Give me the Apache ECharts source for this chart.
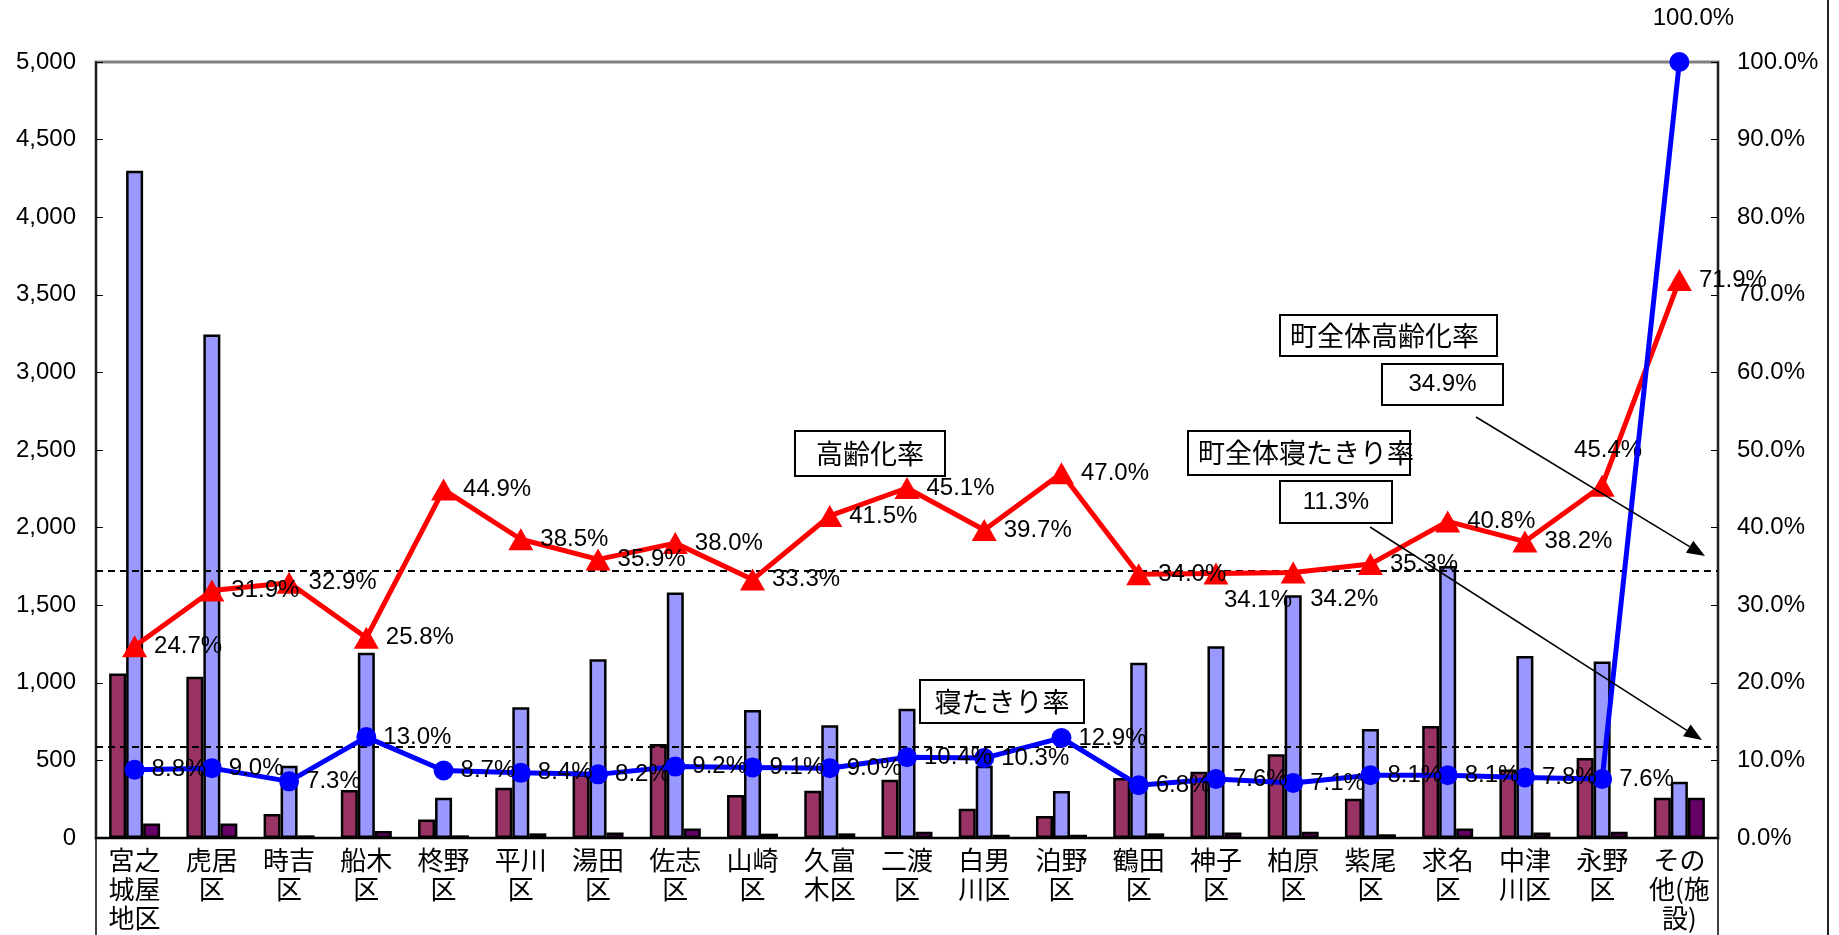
<!DOCTYPE html>
<html>
<head>
<meta charset="utf-8">
<script src="https://cdn.jsdelivr.net/npm/echarts@6/dist/echarts.min.js"></script>
<style>
html,body{margin:0;padding:0;background:#fff;}
#c{width:1839px;height:935px;}
</style>
</head>
<body>
<div id="c"></div>
<script>
// ---- data ----
const categories = ['宮之城屋地区','虎居区','時吉区','船木区','柊野区','平川区','湯田区','佐志区','山崎区','久富木区','二渡区','白男川区','泊野区','鶴田区','神子区','柏原区','紫尾区','求名区','中津川区','永野区','その他(施設)'];
const categoryLabels = ['宮之\n城屋\n地区','虎居\n区','時吉\n区','船木\n区','柊野\n区','平川\n区','湯田\n区','佐志\n区','山崎\n区','久富\n木区','二渡\n区','白男\n川区','泊野\n区','鶴田\n区','神子\n区','柏原\n区','紫尾\n区','求名\n区','中津\n川区','永野\n区','その\n他(施\n設)'];
const elderlyCount = [1060,1039,155,309,120,324,410,605,277,305,376,189,142,386,427,539,253,721,442,515,260];
const population   = [4300,3245,466,1193,260,843,1152,1582,824,727,833,466,303,1129,1236,1564,702,1753,1172,1137,363];
const bedriddenCount = [94,94,17,45,17,30,36,62,28,30,41,21,21,30,36,41,24,62,36,41,260];
const agingRate    = [24.7,31.9,32.9,25.8,44.9,38.5,35.9,38.0,33.3,41.5,45.1,39.7,47.0,34.0,34.1,34.2,35.3,40.8,38.2,45.4,71.9];
const bedriddenRate= [8.8,9.0,7.3,13.0,8.7,8.4,8.2,9.2,9.1,9.0,10.4,10.3,12.9,6.8,7.6,7.1,8.1,8.1,7.8,7.6,100.0];
const townAgingLine = 34.5;      // dashed reference line (town-wide aging rate)
const townBedriddenLine = 11.7;  // dashed reference line (town-wide bedridden rate)
const leftTicks = {min:0,max:5000,interval:500};
const rightTicks = {min:0,max:100,interval:10};

const NUM_FONT = "'Liberation Sans', Arial, sans-serif";
const CJK_FONT = "'Noto Sans CJK JP', 'Noto Sans CJK SC', sans-serif";

const chart = echarts.init(document.getElementById('c'), null, {renderer:'canvas'});

const pctLabel = {show:true, position:'right', distance:7, color:'#000', fontSize:24, fontFamily:NUM_FONT,
  formatter: p => p.value.toFixed(1) + '%'};

const agingData = agingRate.map((v,i) => {
  const d = {value:v};
  if (i === 14) d.label = {position:'bottom', distance:4, offset:[42,0]};
  if (i === 15) d.label = {position:'bottom', distance:4, offset:[51,0]};
  if (i === 19) d.label = {position:'top', distance:12, offset:[6,0]};
  return d;
});
const bedData = bedriddenRate.map((v,i) => {
  const d = {value:v};
  if (i === 20) d.label = {position:'top', distance:22, offset:[14,0]};
  return d;
});

const barBase = {type:'bar', barWidth:17, barGap:'0%', yAxisIndex:0};

function arrow(x1,y1,x2,y2){
  const dx=x2-x1, dy=y2-y1, L=Math.hypot(dx,dy), ux=dx/L, uy=dy/L;
  const bl=18, hw=7;
  const bx=x2-ux*bl, by=y2-uy*bl;
  return [
    {type:'line', shape:{x1:x1,y1:y1,x2:bx,y2:by}, style:{stroke:'#000', lineWidth:1.5}, z:100},
    {type:'polygon', shape:{points:[[x2,y2],[bx-uy*hw,by+ux*hw],[bx+uy*hw,by-ux*hw]]}, style:{fill:'#000'}, z:100}
  ];
}
function box(x,y,w,h,text,align,fs,font){
  const tx = align==='left' ? x+10 : x+w/2;
  return [
    {type:'rect', shape:{x:x,y:y,width:w,height:h}, style:{fill:'#fff', stroke:'#000', lineWidth:2}, z:100},
    {type:'text', x:tx, y:y+h/2, style:{text:text, fontSize:fs, fontFamily:font, fill:'#000',
      align:align, verticalAlign:'middle', textAlign:align, textVerticalAlign:'middle'}, z:101}
  ];
}

const graphics = [].concat(
  box(795,431,150,45,'高齢化率','center',27,CJK_FONT),
  box(920,680,164,43,'寝たきり率','center',27,CJK_FONT),
  box(1280,315,217,41,'町全体高齢化率','left',27,CJK_FONT),
  box(1382,364,121,41,'34.9%','center',24,NUM_FONT),
  box(1188,431,222,44,'町全体寝たきり率','left',27,CJK_FONT),
  box(1280,481,112,42,'11.3%','center',24,NUM_FONT),
  arrow(1476,417,1705,556),
  arrow(1370,527,1702,740),
  [
    {type:'line', shape:{x1:96,y1:838,x2:96,y2:935}, style:{stroke:'#000', lineWidth:1.5}},
    {type:'line', shape:{x1:1718,y1:838,x2:1718,y2:935}, style:{stroke:'#000', lineWidth:1.5}},
    {type:'line', shape:{x1:1828,y1:0,x2:1828,y2:935}, style:{stroke:'#222', lineWidth:2}}
  ]
);

chart.setOption({
  animation:false,
  backgroundColor:'#fff',
  grid:{left:96, right:121, top:62, bottom:97, show:true, borderColor:'#808080', borderWidth:3, backgroundColor:'transparent'},
  xAxis:{type:'category', data:categories, boundaryGap:true,
    axisLine:{lineStyle:{color:'#000', width:2}}, axisTick:{show:false},
    axisLabel:{interval:0, color:'#000', fontSize:26, lineHeight:29, margin:8, fontFamily:CJK_FONT,
      formatter:(v,i)=>categoryLabels[i]}},
  yAxis:[
    {type:'value', min:leftTicks.min, max:leftTicks.max, interval:leftTicks.interval,
      axisLine:{show:true, lineStyle:{color:'#000', width:1.5}},
      axisTick:{show:true, inside:true, length:7, lineStyle:{color:'#000'}},
      splitLine:{show:false},
      axisLabel:{color:'#000', fontSize:24, fontFamily:NUM_FONT, margin:20,
        formatter:v=>v.toLocaleString('en-US')}},
    {type:'value', min:rightTicks.min, max:rightTicks.max, interval:rightTicks.interval, position:'right',
      axisLine:{show:true, lineStyle:{color:'#000', width:1.5}},
      axisTick:{show:true, inside:true, length:7, lineStyle:{color:'#000'}},
      splitLine:{show:false},
      axisLabel:{color:'#000', fontSize:24, fontFamily:NUM_FONT, margin:19,
        formatter:v=>v.toFixed(1)+'%'}}
  ],
  series:[
    Object.assign({}, barBase, {name:'高齢者数', data:elderlyCount, itemStyle:{color:'#993366', borderColor:'#000', borderWidth:2.5}}),
    Object.assign({}, barBase, {name:'人口', data:population, itemStyle:{color:'#9999FF', borderColor:'#000', borderWidth:2.5}}),
    Object.assign({}, barBase, {name:'寝たきり者数', data:bedriddenCount, itemStyle:{color:'#660066', borderColor:'#000', borderWidth:2.5}}),
    {name:'高齢化率', type:'line', yAxisIndex:1, data:agingData, z:5,
      symbol:'triangle', symbolSize:[25,22], lineStyle:{color:'#FF0000', width:5}, itemStyle:{color:'#FF0000'},
      label:pctLabel,
      markLine:{silent:true, symbol:'none', label:{show:false},
        lineStyle:{color:'#000', type:[7,5], width:2}, data:[{yAxis:townAgingLine},{yAxis:townBedriddenLine}]}},
    {name:'寝たきり率', type:'line', yAxisIndex:1, data:bedData, z:6,
      symbol:'circle', symbolSize:20, lineStyle:{color:'#0000FF', width:5}, itemStyle:{color:'#0000FF'},
      label:pctLabel}
  ],
  graphic:graphics
});
</script>
</body>
</html>
